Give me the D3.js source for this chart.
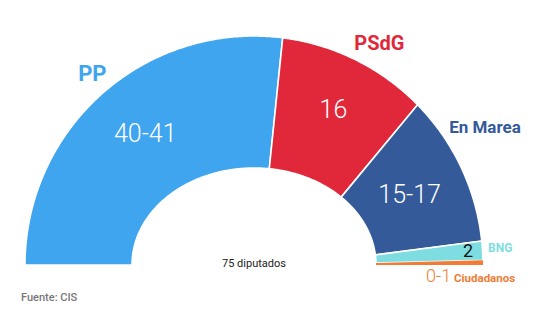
<!DOCTYPE html>
<html>
<head>
<meta charset="utf-8">
<script src="https://cdn.jsdelivr.net/npm/d3@7"></script>
<style>
  body { margin: 0; background: #fff; }
  svg { display: block; font-family: Roboto, "Noto Sans", sans-serif; }
</style>
</head>
<body>
<svg id="drawing_region"></svg>
<script>
// seats per party (midpoint of the CIS range), left to right
const parties = ["PP", "PSdG", "En Marea", "BNG", "Ciudadanos"];
const seatLabels = ["40-41", "16", "15-17", "2", "0-1"];
const seats = [40.5, 16, 16, 2, 0.5];
const colors = ["#3fa5ee", "#e1283a", "#355a9a", "#7edde1", "#f27c35"];
const totalLabel = "75 diputados";
const sourceLabel = "Fuente: CIS";

const width = 545, height = 319;
const cx = 254, cy = 265;
const outerR = 229;          // outer edge is a circle
const innerRx = 122, innerRy = 97;  // hole is a flattened ellipse

const svg = d3.select('#drawing_region')
    .attr('width', width)
    .attr('height', height);

const pie = d3.pie()
    .sort(null)
    .value(d => d)
    .startAngle(-Math.PI / 2)
    .endAngle(Math.PI / 2);

const arcs = pie(seats);

const line = d3.line();

function slicePath(a0, a1) {
    let n = Math.max(2, Math.ceil((a1 - a0) / 0.01));
    let ts = d3.range(n + 1).map(i => a0 + (a1 - a0) * i / n);
    let outer = ts.map(t => [cx + outerR * Math.sin(t), cy - outerR * Math.cos(t)]);
    let inner = ts.slice().reverse().map(t => [cx + innerRx * Math.sin(t), cy - innerRy * Math.cos(t)]);
    return line(outer.concat(inner)) + 'Z';
}

function polar(a, r) {
    return [cx + r * Math.sin(a), cy - r * Math.cos(a)];
}

svg.append('g').selectAll('path')
    .data(arcs)
    .join('path')
    .attr('d', d => slicePath(d.startAngle, d.endAngle))
    .attr('fill', (d, i) => colors[i])
    .attr('stroke', (d, i) => i == 4 ? 'none' : '#fff')
    .attr('stroke-width', 1.6)
    .attr('stroke-linejoin', 'miter');

const mid = d => (d.startAngle + d.endAngle) / 2;

// big seat numbers inside the three large slices
const valueShift = [[5, -3], [3, -2], [0, 2]];
svg.append('g').selectAll('text')
    .data(arcs.slice(0, 3))
    .join('text')
    .attr('x', (d, i) => polar(mid(d), 172)[0] + valueShift[i][0])
    .attr('y', (d, i) => polar(mid(d), 172)[1] + valueShift[i][1])
    .attr('dy', '0.35em')
    .attr('text-anchor', 'middle')
    .attr('fill', '#fff')
    .attr('font-size', 25)
    .attr('font-weight', 300)
    .text((d, i) => seatLabels[i]);

// party names above the big slices
const nameStyle = [
    { r: 252, dx: 5, dy: -3, anchor: 'middle', size: 22 },
    { r: 255, dx: 12, dy: 6, anchor: 'middle', size: 20 },
    { r: 240, dx: -22, dy: -36, anchor: 'start', size: 17 }
];
svg.append('g').selectAll('text')
    .data(arcs.slice(0, 3))
    .join('text')
    .attr('x', (d, i) => polar(mid(d), nameStyle[i].r)[0] + nameStyle[i].dx)
    .attr('y', (d, i) => polar(mid(d), nameStyle[i].r)[1] + nameStyle[i].dy)
    .attr('dy', '0.35em')
    .attr('text-anchor', (d, i) => nameStyle[i].anchor)
    .attr('fill', (d, i) => colors[i])
    .attr('font-size', (d, i) => nameStyle[i].size)
    .attr('font-weight', 'bold')
    .text((d, i) => parties[i]);

// small parties: number + name to the right of the thin slices
const bng = arcs[3], cs = arcs[4];
const bngY = polar(mid(bng), outerR)[1];
svg.append('text')
    .attr('x', cx + outerR - 10)
    .attr('y', bngY)
    .attr('dy', '0.35em')
    .attr('text-anchor', 'end')
    .attr('fill', '#111')
    .attr('font-size', 18)
    .text(seatLabels[3]);
svg.append('text')
    .attr('x', cx + outerR + 5)
    .attr('y', bngY - 3)
    .attr('dy', '0.35em')
    .attr('fill', '#7edde1')
    .attr('font-size', 12)
    .attr('font-weight', 'bold')
    .text(parties[3]);

const csY = polar(mid(cs), outerR)[1];
svg.append('text')
    .attr('x', 426)
    .attr('y', csY + 13)
    .attr('dy', '0.35em')
    .attr('fill', '#f27c35')
    .attr('font-size', 18)
    .attr('font-weight', 300)
    .text(seatLabels[4]);
svg.append('text')
    .attr('x', 454)
    .attr('y', csY + 15)
    .attr('dy', '0.35em')
    .attr('fill', '#f27c35')
    .attr('font-size', 11.5)
    .attr('font-weight', 'bold')
    .text(parties[4]);

svg.append('text')
    .attr('x', cx)
    .attr('y', 263)
    .attr('dy', '0.35em')
    .attr('text-anchor', 'middle')
    .attr('fill', '#222')
    .attr('font-size', 11)
    .text(totalLabel);

svg.append('text')
    .attr('x', 21)
    .attr('y', 297)
    .attr('dy', '0.35em')
    .attr('fill', '#777')
    .attr('font-size', 11)
    .attr('font-weight', 500)
    .text(sourceLabel);
</script>
</body>
</html>
